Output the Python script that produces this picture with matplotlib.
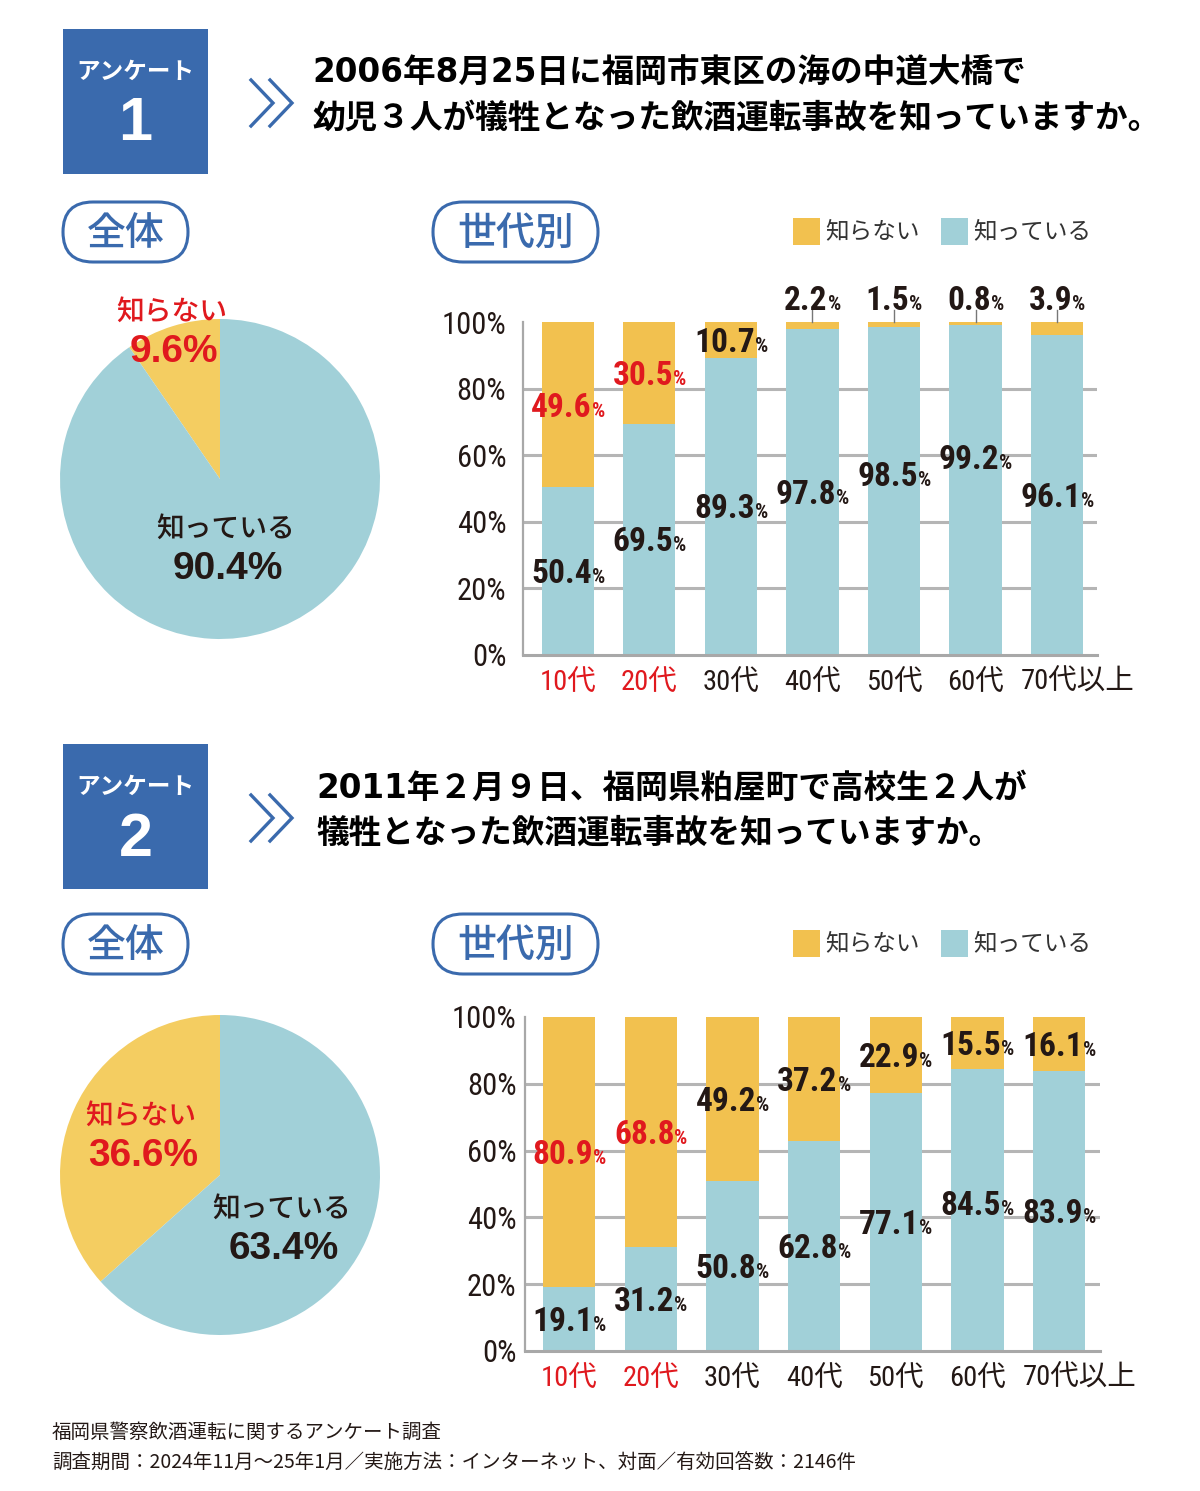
import matplotlib
matplotlib.use('Agg')
import matplotlib.pyplot as plt
from matplotlib.patches import Rectangle, FancyBboxPatch

# ---- data ----
ages = ['10代', '20代', '30代', '40代', '50代', '60代', '70代以上']
q1_known = [50.4, 69.5, 89.3, 97.8, 98.5, 99.2, 96.1]
q1_unknown = [49.6, 30.5, 10.7, 2.2, 1.5, 0.8, 3.9]
q2_known = [19.1, 31.2, 50.8, 62.8, 77.1, 84.5, 83.9]
q2_unknown = [80.9, 68.8, 49.2, 37.2, 22.9, 15.5, 16.1]
q1_total_known, q1_total_unknown = 90.4, 9.6
q2_total_known, q2_total_unknown = 63.4, 36.6
y_ticks = [0, 20, 40, 60, 80, 100]

q1_lines = ['2006年8月25日に福岡市東区の海の中道大橋で',
            '幼児３人が犠牲となった飲酒運転事故を知っていますか。']
q2_lines = ['2011年２月９日、福岡県粕屋町で高校生２人が',
            '犠牲となった飲酒運転事故を知っていますか。']
footer = ['福岡県警察飲酒運転に関するアンケート調査',
          '調査期間：2024年11月〜25年1月／実施方法：インターネット、対面／有効回答数：2146件']

# ---- style ----
BLUE = '#3a6aad'
TEAL = '#a1d0d8'
YEL = '#f2c14f'
PIE_YEL = '#f4cd61'
RED = '#e0191e'
DARK = '#231815'
GRID = '#b5b5b5'

NUM = ['Roboto Condensed', 'Noto Sans CJK JP']
JP = ['Noto Sans CJK JP', 'DejaVu Sans']
LAT = ['Liberation Sans', 'Noto Sans CJK JP']
HEAD = ['DejaVu Sans', 'Noto Sans CJK JP']

# small nudge of the tick label positions (last label sits a bit right)
tick_nudge = [0, 0, 0, 0, 0, 0, 0.25]

W, H = 1200, 1491
fig = plt.figure(figsize=(12, 14.91), dpi=100)


def box(l, t, w, h):
    return [l / W, 1 - (t + h) / H, w / W, h / H]


def Y(py):
    return H - py


bg = fig.add_axes([0, 0, 1, 1])
fg = fig.add_axes([0, 0, 1, 1], zorder=10)
for a in (bg, fg):
    a.set_xlim(0, W)
    a.set_ylim(0, H)
    a.axis('off')


def header(top, num, lines, tx):
    bg.add_patch(Rectangle((63, Y(top + 145)), 145, 145, color=BLUE, lw=0))
    bg.text(135.5, Y(top + 43), 'アンケート', color='white', fontsize=17,
            weight='bold', ha='center', va='center', family=JP)
    bg.text(135.5, Y(top + 96), num, color='white', fontsize=44,
            weight='bold', ha='center', va='center', family=LAT)
    for dx in (0, 19):
        bg.plot([251 + dx, 273 + dx, 251 + dx],
                [Y(top + 51), Y(top + 74), Y(top + 97)],
                color=BLUE, lw=2.4, solid_joinstyle='miter')
    for i, s in enumerate(lines):
        bg.text(tx, Y(top + 44 + 45 * i), s, fontsize=23.5, weight='bold',
                color='black', va='center', family=HEAD)


def pill(l, t, w, h, s):
    bg.add_patch(FancyBboxPatch((l, Y(t + h)), w, h,
                                boxstyle=f'round,pad=0,rounding_size={h / 2}',
                                fc='white', ec=BLUE, lw=2.2))
    bg.text(l + w / 2, Y(t + h / 2 + 2), s, color=BLUE, fontsize=28,
            weight='medium', ha='center', va='center', family=JP)


def legend(top):
    for x0, c, s in [(793, YEL, '知らない'), (941, TEAL, '知っている')]:
        bg.add_patch(Rectangle((x0, Y(top + 27)), 27, 27, color=c, lw=0))
        bg.text(x0 + 32, Y(top + 14), s, fontsize=17, color='#333333',
                va='center', family=JP)


def pie(top, known, unknown, lab_u, lab_k):
    ax = fig.add_axes(box(60, top, 320, 320))
    ax.pie([unknown, known], colors=[PIE_YEL, TEAL], startangle=90,
           counterclock=True, wedgeprops=dict(linewidth=0))
    ax.set_xlim(-1, 1)
    ax.set_ylim(-1, 1)
    for (x, y), name, v, c in [(lab_u, '知らない', unknown, RED),
                               (lab_k, '知っている', known, DARK)]:
        fg.text(x, Y(y), name, color=c, fontsize=20, weight='medium',
                ha='center', va='center', family=JP)
        fg.text(x + 2, Y(y + 41), f'{v}%', color=c, fontsize=28,
                weight='bold', ha='center', va='center', family=LAT)


def pct(ax, x, y, v, color, big=24, small=15):
    r = fig.canvas.get_renderer()
    num = f'{v}'
    t1 = ax.text(0, 0, num, fontsize=big, weight='bold', family=NUM)
    t2 = ax.text(0, 0, '%', fontsize=small, weight='bold', family=NUM)
    w1 = t1.get_window_extent(r).width * 72 / fig.dpi
    w2 = t2.get_window_extent(r).width * 72 / fig.dpi
    t1.remove()
    t2.remove()
    x0 = -(w1 + w2) / 2
    dy = -big * 0.36
    ax.annotate(num, (x, y), xytext=(x0, dy), textcoords='offset points',
                ha='left', va='baseline', fontsize=big, weight='bold',
                color=color, family=NUM, annotation_clip=False, zorder=5)
    ax.annotate('%', (x, y), xytext=(x0 + w1, dy), textcoords='offset points',
                ha='left', va='baseline', fontsize=small, weight='bold',
                color=color, family=NUM, annotation_clip=False, zorder=5)


def bars(rect, xlim, known, unknown, ypad, known_shift):
    ax = fig.add_axes(rect)
    x = list(range(len(ages)))
    ax.bar(x, known, width=0.64, color=TEAL, lw=0, zorder=2)
    ax.bar(x, unknown, width=0.64, bottom=known, color=YEL, lw=0, zorder=2)
    for g in y_ticks[1:-1]:
        ax.axhline(g, color=GRID, lw=2.2, zorder=1)
    ax.set_xlim(*xlim)
    ax.set_ylim(0, 100)
    for s in ('top', 'right'):
        ax.spines[s].set_visible(False)
    ax.spines['left'].set_color('#a8a8a8')
    ax.spines['left'].set_linewidth(1.6)
    ax.spines['bottom'].set_color('#a8a8a8')
    ax.spines['bottom'].set_linewidth(2.2)
    ax.set_yticks(y_ticks)
    ax.set_yticklabels([f'{v}%' for v in y_ticks], family=NUM,
                       fontsize=22, color=DARK)
    ax.set_xticks([i + d for i, d in zip(x, tick_nudge)])
    ax.set_xticklabels(ages, family=NUM, fontsize=20.5)
    for i, t in enumerate(ax.get_xticklabels()):
        t.set_color(RED if i < 2 else DARK)
    ax.tick_params(axis='y', length=0, pad=ypad)
    ax.tick_params(axis='x', length=0, pad=10)
    for i in x:
        pct(ax, i, known[i] / 2 + known_shift[i], known[i], DARK)
        uc = RED if i < 2 else DARK
        if unknown[i] < 5:
            ax.plot([i, i], [100, 103.6], color='#777777', lw=1,
                    clip_on=False, zorder=3)
            pct(ax, i, 107.2, unknown[i], uc)
        else:
            pct(ax, i, known[i] + unknown[i] / 2, unknown[i], uc)
    return ax


# ---- survey 1 ----
header(29, '1', q1_lines, 312)
pill(63, 202, 125, 60, '全体')
pill(433, 202, 165, 60, '世代別')
legend(218)
pie(319, q1_total_known, q1_total_unknown, (172, 311), (226, 528))
bars(box(523, 322, 574, 333), (-0.55, 6.49), q1_known, q1_unknown, 12,
     [0, 0, 0, 0, 5, 10, 0])

# ---- survey 2 ----
header(744, '2', q2_lines, 316)
pill(63, 914, 125, 60, '全体')
pill(433, 914, 165, 60, '世代別')
legend(930)
pie(1015, q2_total_known, q2_total_unknown, (141, 1115), (282, 1208))
bars(box(525, 1017, 575, 334), (-0.54, 6.5), q2_known, q2_unknown, 6,
     [0, 0, 0, 0, 0, 2, 0])

# ---- footer ----
for i, s in enumerate(footer):
    bg.text(52, Y(1432 + 31 * i), s, fontsize=14, color=DARK,
            va='center', family=JP)

fig.savefig('out.png', dpi=100)
